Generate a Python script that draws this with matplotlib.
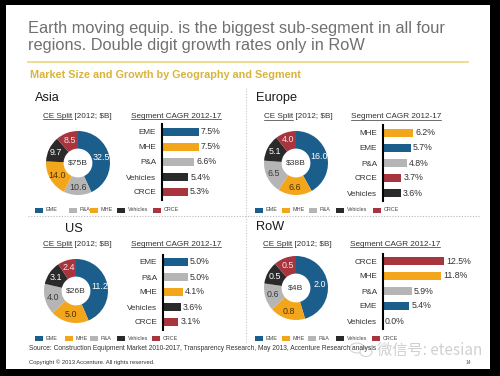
import matplotlib
matplotlib.use('Agg')
import matplotlib.pyplot as plt
from matplotlib.patches import Rectangle, Ellipse
from matplotlib.lines import Line2D

plt.rcParams['font.family'] = ['Liberation Sans', 'DejaVu Sans']

###############################################################################
# Data

seg_colors = {'EME': '#1b5e8c', 'MHE': '#f3a51c', 'P&A': '#b5b5b5',
              'Vehicles': '#2a2a2a', 'CRCE': '#a8343d'}
pie_text_colors = {'EME': 'white', 'MHE': '#4a3500', 'P&A': '#3a3a3a',
                   'Vehicles': 'white', 'CRCE': '#fbe3e3'}

asia_split_labels = ['EME', 'P&A', 'MHE', 'Vehicles', 'CRCE']
asia_split = [32.5, 10.6, 14.0, 9.7, 8.5]
asia_total = '$75B'
asia_cagr_labels = ['EME', 'MHE', 'P&A', 'Vehicles', 'CRCE']
asia_cagr = [7.5, 7.5, 6.6, 5.4, 5.3]

europe_split_labels = ['EME', 'MHE', 'P&A', 'Vehicles', 'CRCE']
europe_split = [16.0, 6.6, 6.5, 5.1, 4.0]
europe_total = '$38B'
europe_cagr_labels = ['MHE', 'EME', 'P&A', 'CRCE', 'Vehicles']
europe_cagr = [6.2, 5.7, 4.8, 3.7, 3.6]

us_split_labels = ['EME', 'MHE', 'P&A', 'Vehicles', 'CRCE']
us_split = [11.2, 5.0, 4.0, 3.1, 2.4]
us_total = '$26B'
us_cagr_labels = ['EME', 'P&A', 'MHE', 'Vehicles', 'CRCE']
us_cagr = [5.0, 5.0, 4.1, 3.6, 3.1]

row_split_labels = ['EME', 'MHE', 'P&A', 'Vehicles', 'CRCE']
row_split = [2.0, 0.8, 0.6, 0.5, 0.5]
row_total = '$4B'
row_cagr_labels = ['CRCE', 'MHE', 'P&A', 'EME', 'Vehicles']
row_cagr = [12.5, 11.8, 5.9, 5.4, 0.0]

###############################################################################
# Layout (pixels, y from top)
W, H = 500, 376
def fx(x): return x / W
def fy(y): return 1 - y / H

fig = plt.figure(figsize=(W / 100, H / 100), dpi=100, facecolor='black')
fig.add_artist(Rectangle((fx(6), fy(369)), fx(490) - fx(6), fy(5) - fy(369),
                         transform=fig.transFigure, facecolor='white',
                         edgecolor='none', zorder=0))

# headline
fig.text(fx(28), fy(28), 'Earth moving equip. is the biggest sub-segment in all four',
         fontsize=11.8, color='#707070', va='center')
fig.text(fx(28), fy(45.5), 'regions. Double digit growth rates only in RoW',
         fontsize=11.8, color='#707070', va='center')
fig.add_artist(Line2D([fx(28), fx(468)], [fy(61.5), fy(61.5)],
                      color='#e9d77f', lw=1.2, transform=fig.transFigure))
fig.text(fx(30), fy(74.5), 'Market Size and Growth by Geography and Segment',
         fontsize=7.8, color='#d9b43c', fontweight='bold', va='center')

# dotted separators
fig.add_artist(Line2D([fx(28), fx(480)], [fy(216), fy(216)], color='#b8b8b8',
                      lw=0.8, ls=(0, (1, 1.5)), transform=fig.transFigure))
fig.add_artist(Line2D([fx(246), fx(246)], [fy(88), fy(342)], color='#c8c8c8',
                      lw=0.8, ls=(0, (1, 1.5)), transform=fig.transFigure))

underlines = []

def region(name, title_xy, split_labels, split, total, cagr_labels, cagr,
           pie_c, split_hdr, cagr_hdr, bar_x, bar_top, leg_y, leg_x):
    fig.text(fx(title_xy[0]), fy(title_xy[1]), name, fontsize=9.2,
             color='#1a1a1a', va='center')

    t1 = fig.text(fx(split_hdr[0]), fy(split_hdr[1]), 'CE Split [2012; $B]',
                  fontsize=5.9, color='#333333', va='center')
    t2 = fig.text(fx(cagr_hdr[0]), fy(cagr_hdr[1]), 'Segment CAGR 2012-17',
                  fontsize=5.9, color='#333333', va='center')
    underlines.append((t1, 'CE Split'))
    underlines.append((t2, None))

    # donut
    r = 32
    pax = fig.add_axes([fx(pie_c[0] - r), fy(pie_c[1] + r), 2 * r / W, 2 * r / H])
    wedges, texts = pax.pie(split, labels=['%.1f' % v for v in split],
                            colors=[seg_colors[s] for s in split_labels],
                            startangle=90, counterclock=False,
                            labeldistance=0.76,
                            wedgeprops=dict(width=0.55, edgecolor='none'),
                            textprops=dict(fontsize=6.4))
    for t, s in zip(texts, split_labels):
        t.set_ha('center')
        t.set_va('center')
        t.set_color(pie_text_colors[s])
    pax.text(0, 0, total, ha='center', va='center', fontsize=6.1, color='#333333')
    pax.set_xlim(-1, 1)
    pax.set_ylim(-1, 1)

    # CAGR bars
    step = 15
    n = len(cagr)
    bw = 90
    bax = fig.add_axes([fx(bar_x), fy(bar_top + step * n), bw / W, step * n / H])
    ypos = list(range(n))
    bars = bax.barh(ypos, cagr, height=0.55,
                    color=[seg_colors[s] for s in cagr_labels])
    bax.bar_label(bars, labels=['%.1f%%' % v for v in cagr], padding=1.5,
                  fontsize=6.3, color='#333333')
    bax.set_ylim(n - 0.5, -0.5)
    bax.set_xlim(0, bw / 4.9)
    bax.set_yticks(ypos)
    bax.set_yticklabels(cagr_labels, fontsize=5.9, color='#333333')
    bax.tick_params(axis='y', length=0, pad=4.3)
    bax.set_xticks([])
    for sp in ['top', 'right', 'bottom']:
        bax.spines[sp].set_visible(False)
    bax.spines['left'].set_linewidth(1.5)
    bax.spines['left'].set_color('black')
    bax.patch.set_alpha(0)

    # legend (swatch + label)
    for s, lx in zip(split_labels, leg_x):
        fig.add_artist(Rectangle((fx(lx), fy(leg_y + 2.5)), 8 / W, 5 / H,
                                 transform=fig.transFigure,
                                 facecolor=seg_colors[s], edgecolor='none'))
        fig.text(fx(lx + 10.5), fy(leg_y), s, fontsize=3.9, color='#444444',
                 va='center')


region('Asia', (35, 98), asia_split_labels, asia_split, asia_total,
       asia_cagr_labels, asia_cagr, (78, 163), (43, 116), (131, 116),
       162, 124.5, 210, [35, 69, 90, 117, 153])
region('Europe', (256, 98), europe_split_labels, europe_split, europe_total,
       europe_cagr_labels, europe_cagr, (296, 163), (264, 117), (351, 117),
       383, 125.5, 210, [255, 282, 309, 336, 373])
region('US', (65, 229), us_split_labels, us_split, us_total,
       us_cagr_labels, us_cagr, (76, 291), (43, 244), (131, 244),
       163, 254.5, 338, [35, 65, 90, 117, 152])
region('RoW', (256, 227), row_split_labels, row_split, row_total,
       row_cagr_labels, row_cagr, (296, 288), (263, 244), (350, 244),
       383, 253.5, 338, [255, 282, 308, 336, 372])

# footer
fig.text(fx(29), fy(349), 'Source: Construction Equipment Market 2010-2017, '
         'Transparency Research, May 2013, Accenture Research analysis',
         fontsize=4.8, color='#333333', va='center')
fig.text(fx(29), fy(362), 'Copyright \u00a9 2013 Accenture. All rights reserved.',
         fontsize=4.2, color='#333333', va='center')
fig.text(fx(466), fy(362), '14', fontsize=3.6, color='#555555', va='center')

# watermark
fig.add_artist(Ellipse((fx(357), fy(348)), 14 / W, 10 / H, transform=fig.transFigure,
                       facecolor='white', edgecolor='#cfcfcf', lw=0.8, alpha=0.9))
fig.add_artist(Ellipse((fx(366), fy(352)), 12 / W, 9 / H, transform=fig.transFigure,
                       facecolor='white', edgecolor='#cfcfcf', lw=0.8, alpha=0.9))
fig.text(fx(377), fy(350), '微信号: etesian', fontsize=11, color='#d0d0d0',
         va='center', family=['Noto Sans CJK SC', 'DejaVu Sans'])

# underline the sub headers
fig.canvas.draw()
rend = fig.canvas.get_renderer()
inv = fig.transFigure.inverted()
for t, part in underlines:
    bb = t.get_window_extent(rend)
    x0 = bb.x0
    if part is None:
        x1 = bb.x1
    else:
        tmp = fig.text(*t.get_position(), part, fontsize=t.get_fontsize(), va='center')
        x1 = x0 + tmp.get_window_extent(rend).width
        tmp.remove()
    ya = bb.y0 + 0.3
    p0 = inv.transform((x0, ya))
    p1 = inv.transform((x1, ya))
    fig.add_artist(Line2D([p0[0], p1[0]], [p0[1], p1[1]], color='#333333',
                          lw=0.5, transform=fig.transFigure))

fig.savefig('out.png', dpi=100, facecolor='black')
